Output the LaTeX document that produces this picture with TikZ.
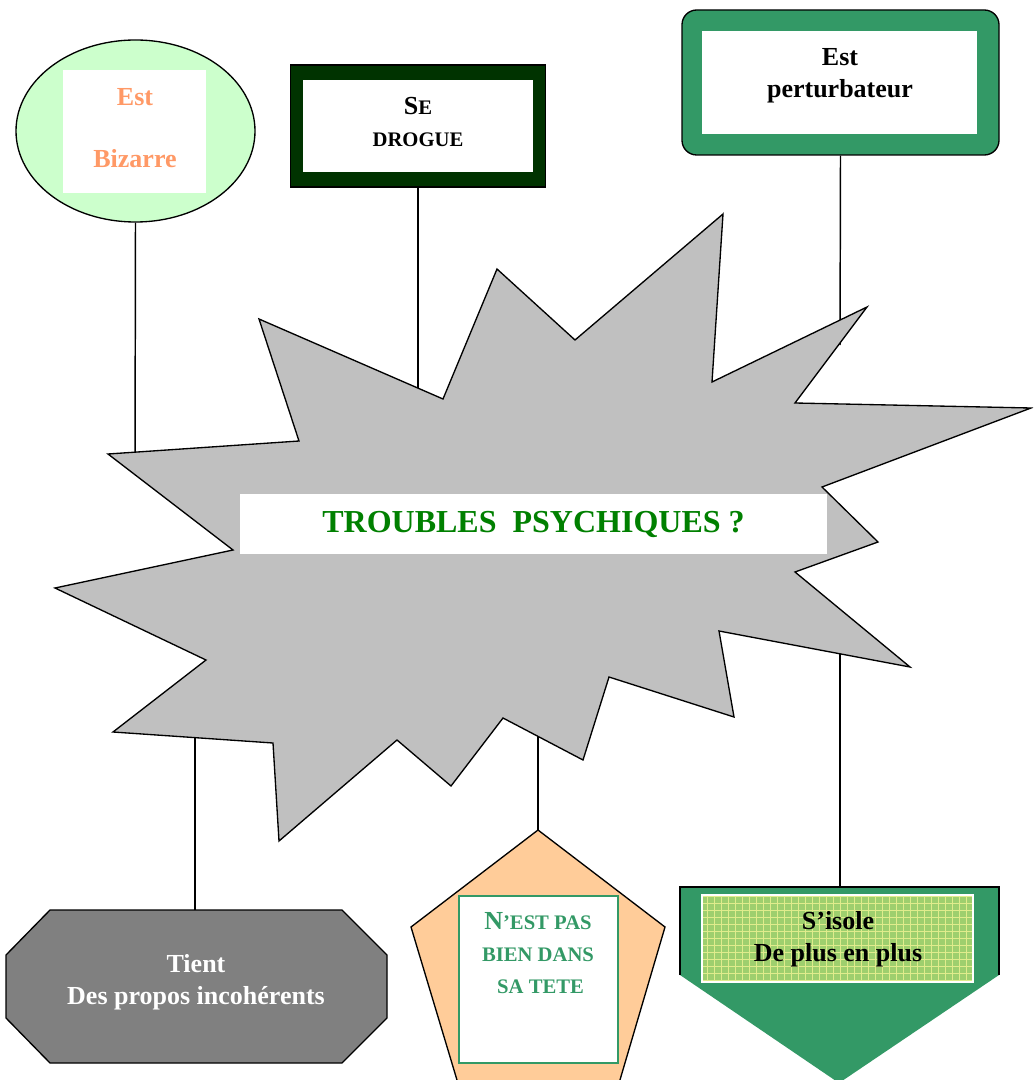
\documentclass[tikz,border=0pt]{standalone}
\usepackage{fontspec}
\setmainfont{Liberation Serif}
\usetikzlibrary{shapes.geometric}
\definecolor{paleGreen}{HTML}{CCFFCC}
\definecolor{saumon}{HTML}{FF9966}
\definecolor{darkGreen}{HTML}{003300}
\definecolor{seaGreen}{HTML}{339966}
\definecolor{starGray}{HTML}{C0C0C0}
\definecolor{octGray}{HTML}{808080}
\definecolor{peach}{HTML}{FFCC99}
\definecolor{titleGreen}{HTML}{008000}
\definecolor{grass}{HTML}{9ECF6E}
\definecolor{paleYellow}{HTML}{E0EC8C}
\newcommand{\petit}[1]{{\fontsize{15.5}{24}\selectfont #1}}

\begin{document}
\begin{tikzpicture}[x=0.75pt,y=-0.75pt,line width=1pt,
    txt/.style={font=\fontsize{19.5}{24}\selectfont\bfseries,align=center,inner sep=0pt},
    stem/.style={line width=1.1pt}]
      \useasboundingbox (0,0) rectangle (1033,1080);
      \clip (0,0) rectangle (1033,1080);

      % top row
      \node (bz) at (135.5,131) [ellipse,draw,fill=paleGreen,inner sep=0pt,minimum width=179.25pt,minimum height=136.5pt] {};
      \fill[white] (63,70) rectangle (206,193);
      \node (bzt) at (135,128) [txt,text=saumon] {Est\\[22pt]Bizarre};

      \node (dr) at (418,126) [draw,fill=darkGreen,inner sep=0pt,minimum width=191.25pt,minimum height=91.5pt] {};
      \fill[white] (303,80) rectangle (533,172);
      \node (drt) at (418,122) [txt] {S\petit{E}\\ \petit{DROGUE}};

      \node (pt) at (840.5,82.5) [draw,fill=seaGreen,rounded corners=11pt,inner sep=0pt,minimum width=237.75pt,minimum height=108.75pt] {};
      \fill[white] (702,31) rectangle (977,134);
      \node (ptt) at (840,75.5) [txt] {Est\\perturbateur};

      % bottom row
      \draw[fill=octGray] (50,910) -- (342,910) -- (387,955) -- (387,1018) -- (342,1063)
        -- (50,1063) -- (6,1018) -- (6,955) -- cycle;
      \coordinate (ti-top) at (195,910);
      \node (ti) at (196,982) [txt,text=white] {Tient\\Des propos incohérents};

      \draw[fill=peach] (538,830) -- (665,927) -- (617,1090) -- (460,1090) -- (411,927) -- cycle;
      \coordinate (np-top) at (538,830);
      \draw[seaGreen,line width=1.5pt,fill=white] (459,896) rectangle (618,1063);
      \node (np) at (538,953) [txt,text=seaGreen] {N\petit{’EST PAS}\\ \petit{BIEN DANS}\\ \petit{\ SA TETE}};

      \fill[seaGreen] (680,887) -- (999,887) -- (999,975) -- (839,1083) -- (680,975) -- cycle;
      \draw (680,975) -- (680,887) -- (999,887) -- (999,975);
      \coordinate (si-top) at (840,887);
      \fill[grass] (702,895) rectangle (973,982);
      \draw[paleYellow,line width=0.3pt,step=5.25pt] (702,895) grid (973,982);
      \draw[white,line width=1.2pt] (702,895) rectangle (973,982);
      \node (si) at (838,939) [txt] {S’isole\\De plus en plus};

      % stems, hidden under the star
      \coordinate (k1) at (135,470);
      \coordinate (k2) at (418,410);
      \coordinate (k3) at (840,345);
      \coordinate (k4) at (195,720);
      \coordinate (k5) at (538,720);
      \coordinate (k6) at (840,640);
      \draw[stem] (bz.south) -- (k1);
      \draw[stem] (dr.south) -- (k2);
      \draw[stem] (pt.south) -- (k3);
      \draw[stem] (ti-top) -- (k4);
      \draw[stem] (np-top) -- (k5);
      \draw[stem] (si-top) -- (k6);

      % the star
      \draw[fill=starGray] (108,454) -- (299,441) -- (259,319) -- (443,399) -- (497,269)
        -- (575,340) -- (723,214) -- (712,382) -- (867,307) -- (795,403) -- (1031,408)
        -- (822,487) -- (878,542) -- (795,572) -- (910,667) -- (719,631) -- (734,717)
        -- (609,677) -- (583,760) -- (503,718) -- (451,786) -- (397,740) -- (279,841)
        -- (273,743) -- (113,732) -- (206,660) -- (55,588) -- (233,550) -- cycle;

      \node (tt) at (533.5,524) [fill=white,inner sep=0pt,minimum width=440.25pt,minimum height=45pt,
        font=\fontsize{24}{28}\selectfont\bfseries,text=titleGreen] {TROUBLES\ \ PSYCHIQUES ?};
\end{tikzpicture}
\end{document}
